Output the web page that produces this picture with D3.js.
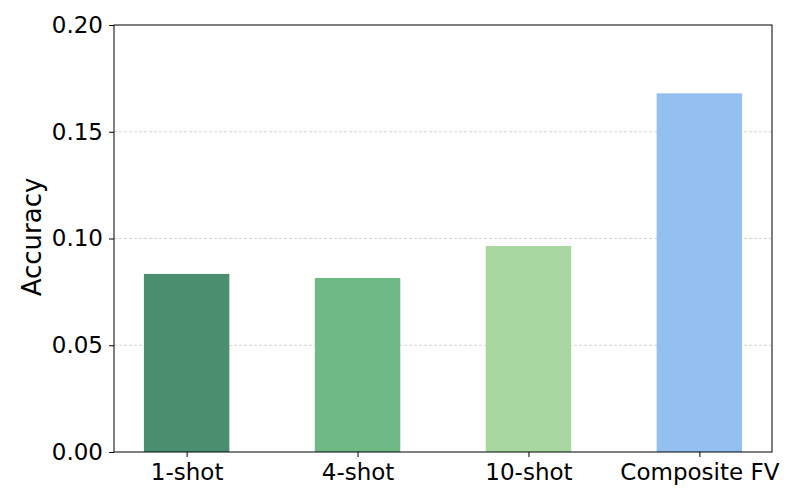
<!DOCTYPE html>
<html><head><meta charset="utf-8">
<script src="https://cdn.jsdelivr.net/npm/d3@7"></script>
<style>body{margin:0;background:#fff}svg text{font-family:"DejaVu Sans",sans-serif}</style>
</head><body><svg id="c" width="800" height="500"></svg>
<script>
const categories = ["1-shot", "4-shot", "10-shot", "Composite FV"];
const values = [0.0834, 0.0815, 0.0965, 0.168];
const colors = ["#4a8f6f", "#6fb984", "#a8d8a0", "#93c0f0"];
const yTicks = [0, 0.05, 0.10, 0.15, 0.20];

const W = 800, H = 500, m = {l:114, r:28, t:25, b:48};
const svg = d3.select("#c");
const x = d3.scaleLinear().domain([-0.425, 3.425]).range([m.l, W - m.r]);
const y = d3.scaleLinear().domain([0, 0.2]).range([H - m.b, m.t]);

// grid
svg.append("g").selectAll("line").data(yTicks.slice(1, -1)).join("line")
  .attr("x1", m.l).attr("x2", W - m.r)
  .attr("y1", d => y(d)).attr("y2", d => y(d))
  .attr("stroke", "#cccccc").attr("stroke-width", 0.8).attr("stroke-dasharray", "3,2");

// bars
svg.append("g").selectAll("rect").data(values).join("rect")
  .attr("x", (d, i) => x(i - 0.25)).attr("width", (d, i) => x(i + 0.25) - x(i - 0.25))
  .attr("y", d => y(d)).attr("height", d => y(0) - y(d))
  .attr("fill", (d, i) => colors[i]);

// axes
const yAxis = d3.axisLeft(y).tickValues(yTicks).tickFormat(d3.format(".2f")).tickSize(5).tickPadding(6);
const gy = svg.append("g").attr("transform", `translate(${m.l},0)`).call(yAxis);
const xAxis = d3.axisBottom(x).tickValues(d3.range(categories.length)).tickFormat(i => categories[i]).tickSize(5).tickPadding(6.5);
const gx = svg.append("g").attr("transform", `translate(0,${H - m.b})`).call(xAxis);
[gx, gy].forEach(g => {
  g.select(".domain").remove();
  g.selectAll("text").attr("font-size", 23).attr("fill", "#000");
  g.selectAll("line").attr("stroke", "#000");
});

// frame
svg.append("rect").attr("x", m.l).attr("y", m.t).attr("width", W - m.r - m.l).attr("height", H - m.b - m.t)
  .attr("fill", "none").attr("stroke", "#000").attr("stroke-width", 1);

svg.append("text").attr("transform", `translate(41,237) rotate(-90)`)
  .attr("text-anchor", "middle").attr("font-size", 26).text("Accuracy");
</script></body></html>
